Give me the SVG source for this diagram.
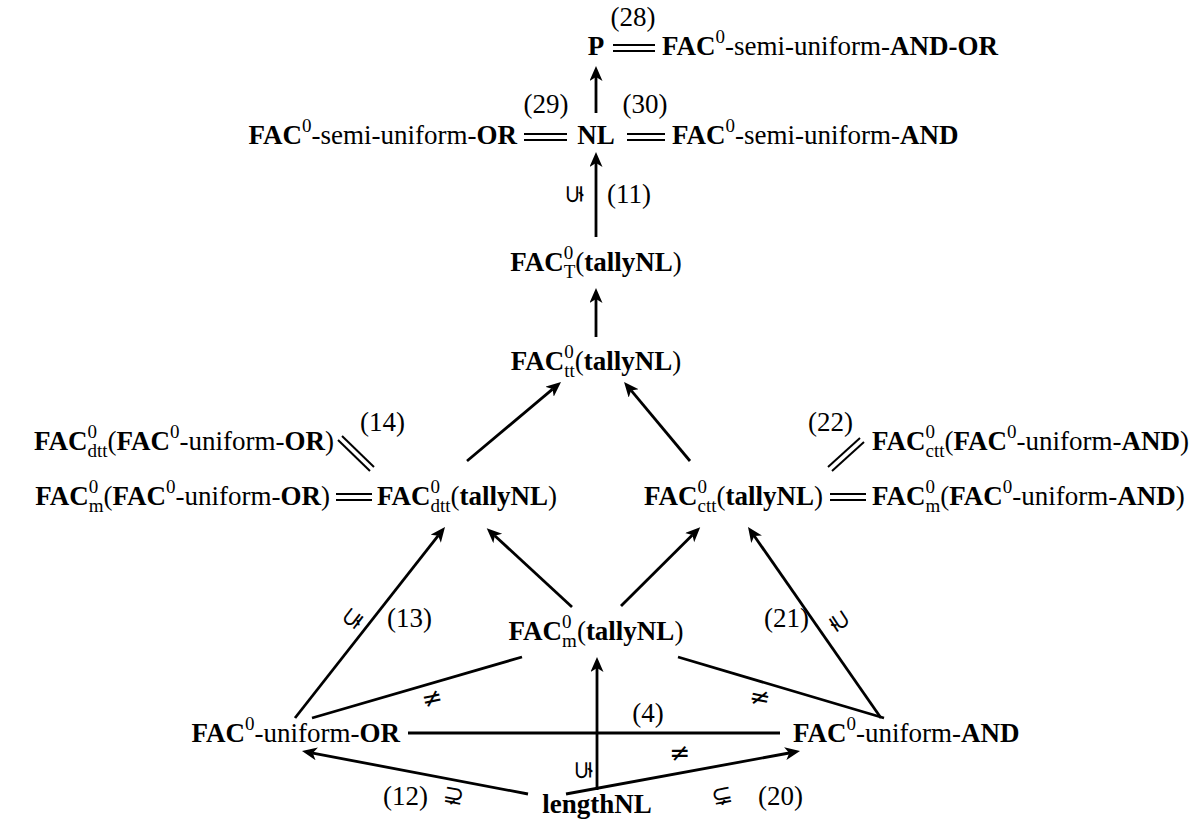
<svg xmlns="http://www.w3.org/2000/svg" width="1200" height="827" viewBox="0 0 1200 827">
<style>
text{font-family:"Liberation Serif","Times New Roman",serif;font-size:27px;fill:#000}
.b{font-weight:bold}
.sup{font-size:19px}
.sub{font-size:19px}
.sym{font-family:"DejaVu Sans","Noto Sans",sans-serif;font-size:25px;text-anchor:middle;dominant-baseline:central}
.ln{stroke:#000;stroke-width:2.8;fill:none}
.ar{stroke:#000;stroke-width:2.8;fill:none;marker-end:url(#ah)}
.dbl{stroke:#000;stroke-width:2;fill:none}
</style>
<defs>
<marker id="ah" markerUnits="userSpaceOnUse" markerWidth="17" markerHeight="15" refX="4" refY="6.5" orient="auto">
<path d="M0,0 L15,6.5 L0,13 L4,6.5 z" fill="#000"/>
</marker>
</defs>
<rect width="1200" height="827" fill="#fff"/>

<g id="connectors">
<line class="ar" x1="596" y1="113" x2="596" y2="77"/>
<line class="ar" x1="596" y1="237" x2="596" y2="163"/>
<line class="ar" x1="596" y1="337" x2="596" y2="299"/>
<line class="ar" x1="467" y1="461" x2="552.6" y2="389.1"/>
<line class="ar" x1="690" y1="461" x2="631.1" y2="390.4"/>
<line class="ar" x1="295" y1="718" x2="438.2" y2="535.7"/>
<line class="ar" x1="572" y1="607" x2="494.8" y2="535.7"/>
<line class="ar" x1="621" y1="606" x2="692.4" y2="534.9"/>
<line class="ar" x1="881" y1="718" x2="754.3" y2="536"/>
<line class="ar" x1="597" y1="790" x2="597" y2="668"/>
<line class="ar" x1="528" y1="794" x2="312.8" y2="753.1"/>
<line class="ar" x1="566" y1="794" x2="789.2" y2="753"/>
<line class="ln" x1="522" y1="657" x2="312" y2="718"/>
<line class="ln" x1="678" y1="657" x2="884" y2="718"/>
<line class="ln" x1="408" y1="733" x2="780" y2="733"/>
<!-- equalities -->
<line class="dbl" x1="613" y1="45" x2="655" y2="45"/><line class="dbl" x1="613" y1="51" x2="655" y2="51"/>
<line class="dbl" x1="524" y1="134" x2="567" y2="134"/><line class="dbl" x1="524" y1="140" x2="567" y2="140"/>
<line class="dbl" x1="627" y1="134" x2="665" y2="134"/><line class="dbl" x1="627" y1="140" x2="665" y2="140"/>
<line class="dbl" x1="336" y1="494" x2="372" y2="494"/><line class="dbl" x1="336" y1="500" x2="372" y2="500"/>
<line class="dbl" x1="830" y1="494" x2="866" y2="494"/><line class="dbl" x1="830" y1="500" x2="866" y2="500"/>
<line class="dbl" x1="342" y1="436" x2="374" y2="467"/><line class="dbl" x1="338" y1="440" x2="370" y2="471"/>
<line class="dbl" x1="828" y1="467" x2="860" y2="438"/><line class="dbl" x1="832" y1="471" x2="864" y2="442"/>
<!-- labels -->
<text x="633" y="26" text-anchor="middle">(28)</text>
<text x="546" y="113" text-anchor="middle">(29)</text>
<text x="645" y="113" text-anchor="middle">(30)</text>
<text x="607" y="203">(11)</text>
<text x="360" y="431">(14)</text>
<text x="808" y="431">(22)</text>
<text x="387" y="627">(13)</text>
<text x="764" y="627">(21)</text>
<text x="648" y="722" text-anchor="middle">(4)</text>
<text x="383" y="805">(12)</text>
<text x="758" y="805">(20)</text>
<text class="sym" x="573" y="194" transform="rotate(-90 573 194)">⊊</text>
<text class="sym" x="582" y="770" transform="rotate(-90 582 770)">⊊</text>
<text class="sym" x="352" y="618" transform="rotate(-53 352 618)">⊊</text>
<text class="sym" x="840" y="621" transform="rotate(57 840 621)">⊋</text>
<text class="sym" x="454" y="795" transform="rotate(11 454 795)">⊋</text>
<text class="sym" x="722" y="795" transform="rotate(-11 722 795)">⊊</text>
<text class="sym" x="432" y="698" transform="rotate(-12 432 698)">≠</text>
<text class="sym" x="760" y="697" transform="rotate(12 760 697)">≠</text>
<text class="sym" x="680" y="752">≠</text>
</g>

<g id="n-P"><text x="596" y="55" text-anchor="middle" class="b">P</text></g>
<g id="n-semi-andor"><text x="662" y="55"><tspan class="b">FAC</tspan><tspan class="sup" dy="-12">0</tspan><tspan dy="12">-semi-uniform-</tspan><tspan class="b">AND-OR</tspan></text></g>
<g id="n-semi-or"><text x="517" y="144" text-anchor="end"><tspan class="b">FAC</tspan><tspan class="sup" dy="-12">0</tspan><tspan dy="12">-semi-uniform-</tspan><tspan class="b">OR</tspan></text></g>
<g id="n-NL"><text x="596" y="144" text-anchor="middle" class="b">NL</text></g>
<g id="n-semi-and"><text x="672" y="144"><tspan class="b">FAC</tspan><tspan class="sup" dy="-12">0</tspan><tspan dy="12">-semi-uniform-</tspan><tspan class="b">AND</tspan></text></g>
<g id="n-T"><text x="596" y="271" text-anchor="middle"><tspan class="b">FAC</tspan><tspan class="sup" dy="-12">0</tspan><tspan class="sub" dx="-9.5" dy="19">T</tspan><tspan dy="-7">(</tspan><tspan class="b">tallyNL</tspan>)</text></g>
<g id="n-tt"><text x="596" y="370" text-anchor="middle"><tspan class="b">FAC</tspan><tspan class="sup" dy="-12">0</tspan><tspan class="sub" dx="-9.5" dy="19">tt</tspan><tspan dy="-7">(</tspan><tspan class="b">tallyNL</tspan>)</text></g>
<g id="n-dtt-or"><text x="334" y="450" text-anchor="end"><tspan class="b">FAC</tspan><tspan class="sup" dy="-12">0</tspan><tspan class="sub" dx="-9.5" dy="19">dtt</tspan><tspan dy="-7">(</tspan><tspan class="b">FAC</tspan><tspan class="sup" dy="-12">0</tspan><tspan dy="12">-uniform-</tspan><tspan class="b">OR</tspan>)</text></g>
<g id="n-m-or"><text x="330" y="505" text-anchor="end"><tspan class="b">FAC</tspan><tspan class="sup" dy="-12">0</tspan><tspan class="sub" dx="-9.5" dy="19">m</tspan><tspan dy="-7">(</tspan><tspan class="b">FAC</tspan><tspan class="sup" dy="-12">0</tspan><tspan dy="12">-uniform-</tspan><tspan class="b">OR</tspan>)</text></g>
<g id="n-dtt"><text x="377" y="505"><tspan class="b">FAC</tspan><tspan class="sup" dy="-12">0</tspan><tspan class="sub" dx="-9.5" dy="19">dtt</tspan><tspan dy="-7">(</tspan><tspan class="b">tallyNL</tspan>)</text></g>
<g id="n-ctt"><text x="823" y="505" text-anchor="end"><tspan class="b">FAC</tspan><tspan class="sup" dy="-12">0</tspan><tspan class="sub" dx="-9.5" dy="19">ctt</tspan><tspan dy="-7">(</tspan><tspan class="b">tallyNL</tspan>)</text></g>
<g id="n-ctt-and"><text x="872" y="450"><tspan class="b">FAC</tspan><tspan class="sup" dy="-12">0</tspan><tspan class="sub" dx="-9.5" dy="19">ctt</tspan><tspan dy="-7">(</tspan><tspan class="b">FAC</tspan><tspan class="sup" dy="-12">0</tspan><tspan dy="12">-uniform-</tspan><tspan class="b">AND</tspan>)</text></g>
<g id="n-m-and"><text x="872" y="505"><tspan class="b">FAC</tspan><tspan class="sup" dy="-12">0</tspan><tspan class="sub" dx="-9.5" dy="19">m</tspan><tspan dy="-7">(</tspan><tspan class="b">FAC</tspan><tspan class="sup" dy="-12">0</tspan><tspan dy="12">-uniform-</tspan><tspan class="b">AND</tspan>)</text></g>
<g id="n-m"><text x="596" y="640" text-anchor="middle"><tspan class="b">FAC</tspan><tspan class="sup" dy="-12">0</tspan><tspan class="sub" dx="-9.5" dy="19">m</tspan><tspan dy="-7">(</tspan><tspan class="b">tallyNL</tspan>)</text></g>
<g id="n-or"><text x="400" y="742" text-anchor="end"><tspan class="b">FAC</tspan><tspan class="sup" dy="-12">0</tspan><tspan dy="12">-uniform-</tspan><tspan class="b">OR</tspan></text></g>
<g id="n-and"><text x="793" y="742"><tspan class="b">FAC</tspan><tspan class="sup" dy="-12">0</tspan><tspan dy="12">-uniform-</tspan><tspan class="b">AND</tspan></text></g>
<g id="n-length"><text x="597" y="813" text-anchor="middle" class="b">lengthNL</text></g>
</svg>
